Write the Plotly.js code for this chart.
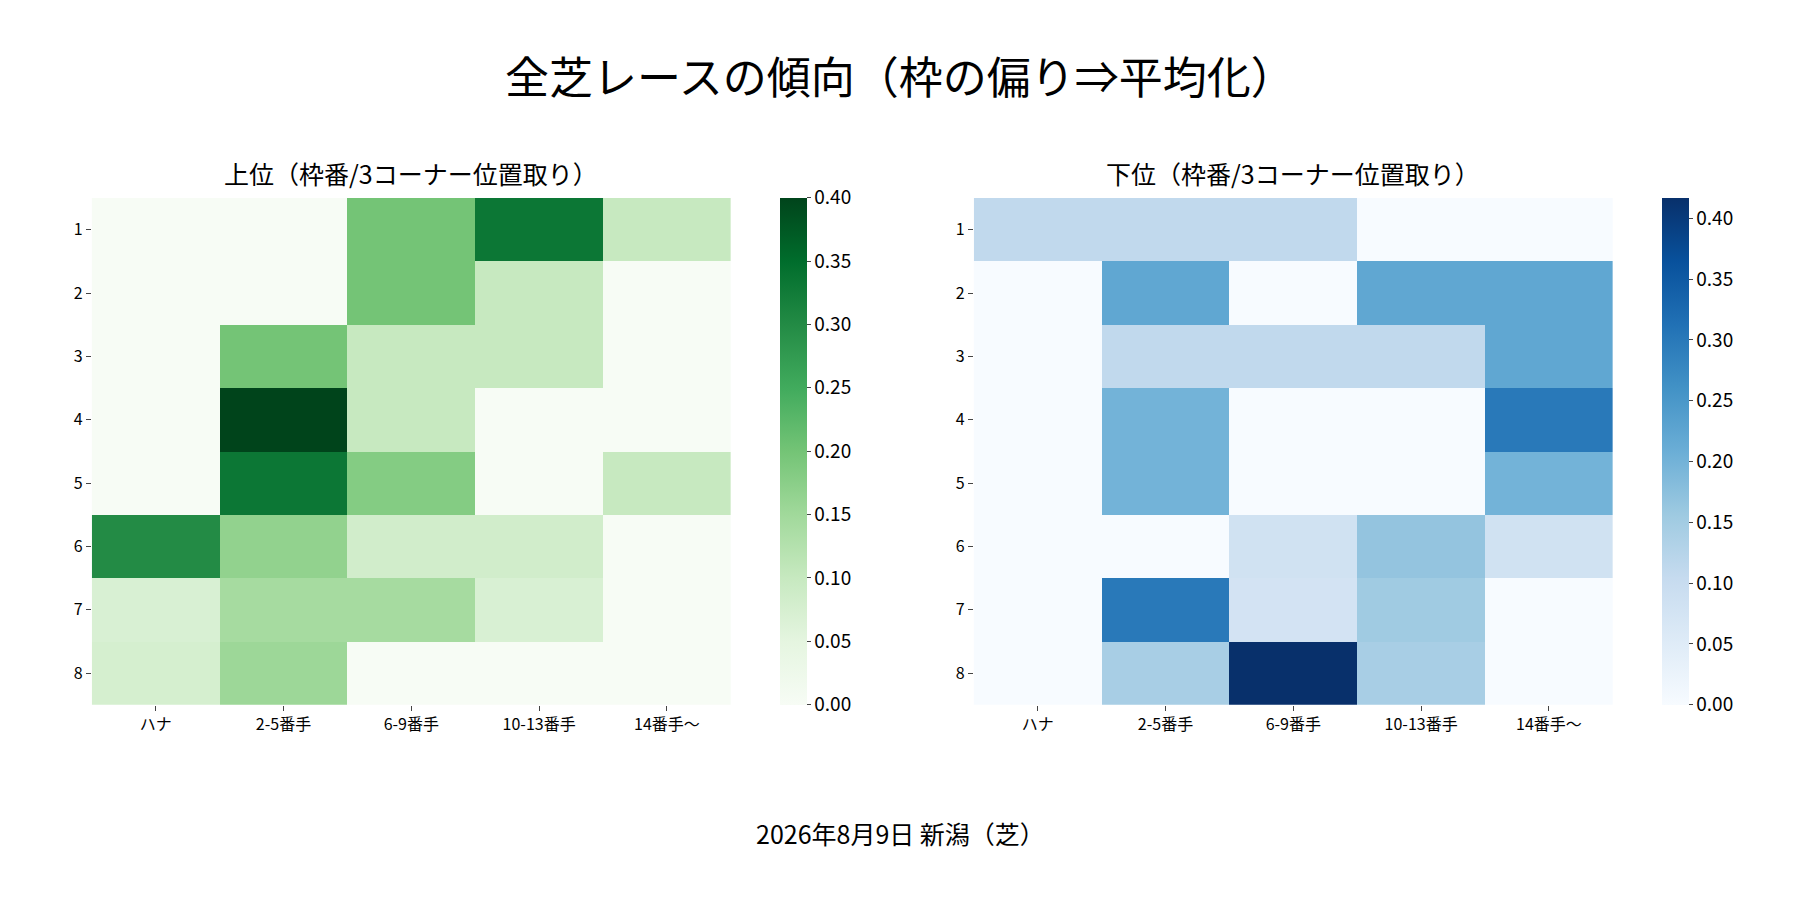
<!DOCTYPE html><html><head><meta charset="utf-8"><script src="https://cdn.plot.ly/plotly-3.0.1.min.js"></script></head><body style="margin:0"><div id="c" style="width:1800px;height:900px"></div><script>
const cols=['ハナ','2-5番手','6-9番手','10-13番手','14番手〜'];
const rows=['1','2','3','4','5','6','7','8'];
const upper=[[0,0,0.2,0.333,0.1],[0,0,0.2,0.1,0],[0,0.2,0.1,0.1,0],[0,0.4,0.1,0,0],[0,0.333,0.182,0,0.1],[0.3,0.167,0.083,0.083,0],[0.071,0.143,0.143,0.071,0],[0.077,0.154,0,0,0]];
const lower=[[0.111,0.111,0.111,0,0],[0,0.222,0,0.222,0.222],[0,0.111,0.111,0.111,0.222],[0,0.2,0,0,0.3],[0,0.2,0,0,0.2],[0,0,0.083,0.167,0.083],[0,0.3,0.077,0.154,0],[0,0.143,0.417,0.143,0]];
const greens=['#f7fcf5','#e5f5e0','#c7e9c0','#a1d99b','#74c476','#41ab5d','#238b45','#006d2c','#00441b'];
const blues=['#f7fbff','#deebf7','#c6dbef','#9ecae1','#6baed6','#4292c6','#2171b5','#08519c','#08306b'];
const sc=a=>a.map((c,i)=>[i/8,c]);
const F='"Noto Sans CJK JP", "Noto Sans", sans-serif';
const cb=(x)=>({x:x,xanchor:'left',y:0.217,yanchor:'bottom',len:0.563,lenmode:'fraction',ypad:0,thickness:27,thicknessmode:'pixels',outlinewidth:0,tick0:0,dtick:0.05,tickformat:'.2f',ticks:'outside',ticklen:4,tickfont:{size:19}});
const data=[
{type:'heatmap',x:cols,y:rows,z:upper,xaxis:'x',yaxis:'y',colorscale:sc(greens),zmin:0,zmax:0.4,colorbar:cb(0.428)},
{type:'heatmap',x:cols,y:rows,z:lower,xaxis:'x2',yaxis:'y2',colorscale:sc(blues),zmin:0,zmax:0.417,colorbar:cb(0.918)}];
const ax=(d)=>({domain:d,showgrid:false,zeroline:false,ticks:'outside',ticklen:5,tickfont:{size:16},showline:false});
const ay=(a)=>({domain:[0.217,0.78],autorange:'reversed',showgrid:false,zeroline:false,ticks:'outside',ticklen:5,tickfont:{size:16},anchor:a});
const A=(t,x,y,s)=>({text:t,x:x,y:y,xanchor:'center',yanchor:'middle',xref:'paper',yref:'paper',showarrow:false,font:{size:s}});
const layout={margin:{l:0,r:0,t:0,b:0},paper_bgcolor:'white',plot_bgcolor:'white',font:{family:F,color:'#000'},
xaxis:ax([0.051,0.406]),yaxis:ay('x'),xaxis2:Object.assign(ax([0.541,0.896]),{anchor:'y2'}),yaxis2:ay('x2'),
annotations:[A('全芝レースの傾向（枠の偏り⇒平均化）',0.5,0.917,44),A('上位（枠番/3コーナー位置取り）',0.2285,0.808,25),A('下位（枠番/3コーナー位置取り）',0.7185,0.808,25),A('2026年8月9日 新潟（芝）',0.5,0.074,25)]};
Plotly.newPlot('c',data,layout,{displayModeBar:false});
</script></body></html>
